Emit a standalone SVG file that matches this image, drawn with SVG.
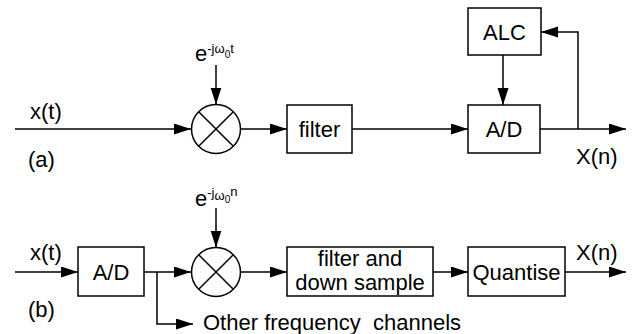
<svg xmlns="http://www.w3.org/2000/svg" width="639" height="334" viewBox="0 0 639 334">
<style>
.ln{fill:none;stroke:#000;stroke-width:1.5}
.bx{fill:#fff;stroke:#000;stroke-width:1.5}
.t{font-family:"Liberation Sans",Arial,sans-serif;font-size:22px;fill:#000}
.m{text-anchor:middle}
.s{font-size:13px}
.ss{font-size:10px}
</style>
<defs>
<marker id="ah" markerUnits="userSpaceOnUse" markerWidth="18" markerHeight="12" refX="17" refY="5.5" orient="auto">
<path d="M0,0 L17,5.5 L0,11 z" fill="#000"/>
</marker>
</defs>
<g id="connectors">
<line class="ln" x1="15" y1="129" x2="191" y2="129" marker-end="url(#ah)"/>
<line class="ln" x1="216" y1="65" x2="216" y2="104.5" marker-end="url(#ah)"/>
<line class="ln" x1="240.5" y1="129" x2="287" y2="129" marker-end="url(#ah)"/>
<line class="ln" x1="352" y1="129" x2="468" y2="129" marker-end="url(#ah)"/>
<line class="ln" x1="503" y1="55" x2="503" y2="105" marker-end="url(#ah)"/>
<line class="ln" x1="540" y1="129" x2="626" y2="129" marker-end="url(#ah)"/>
<polyline class="ln" points="578,129 578,32 541,32" marker-end="url(#ah)"/>
<line class="ln" x1="15" y1="272" x2="78" y2="272" marker-end="url(#ah)"/>
<line class="ln" x1="144" y1="272" x2="191" y2="272" marker-end="url(#ah)"/>
<polyline class="ln" points="157,272 157,324 193,324" marker-end="url(#ah)"/>
<line class="ln" x1="216" y1="208" x2="216" y2="247.5" marker-end="url(#ah)"/>
<line class="ln" x1="240.5" y1="272" x2="287" y2="272" marker-end="url(#ah)"/>
<line class="ln" x1="433" y1="272" x2="468" y2="272" marker-end="url(#ah)"/>
<line class="ln" x1="565" y1="272" x2="626" y2="272" marker-end="url(#ah)"/>
</g>
<g id="mixer-a">
<circle class="bx" cx="216" cy="129" r="24.5"/>
<path class="ln" d="M198.7,111.7 L233.3,146.3 M233.3,111.7 L198.7,146.3"/>
</g>
<g id="osc-a">
<text class="t" x="195" y="61">e<tspan class="s" dy="-8">-jω</tspan><tspan class="ss" dy="5">0</tspan><tspan class="s" dy="-5">t</tspan></text>
</g>
<g id="filter-a">
<rect class="bx" x="287" y="105" width="65" height="48"/>
<text class="t m" x="319.5" y="136.5">filter</text>
</g>
<g id="ad-a">
<rect class="bx" x="468" y="105" width="72" height="48"/>
<text class="t m" x="504" y="136.5">A/D</text>
</g>
<g id="alc">
<rect class="bx" x="468" y="8" width="73" height="47"/>
<text class="t m" x="504.5" y="39.5">ALC</text>
</g>
<g id="labels-a">
<text class="t" x="30" y="119">x(t)</text>
<text class="t" x="28" y="167">(a)</text>
<text class="t" x="576" y="164">X(n)</text>
</g>
<g id="ad-b">
<rect class="bx" x="78" y="247" width="66" height="49"/>
<text class="t m" x="111" y="279.5">A/D</text>
</g>
<g id="mixer-b">
<circle class="bx" cx="216" cy="272" r="24.5"/>
<path class="ln" d="M198.7,254.7 L233.3,289.3 M233.3,254.7 L198.7,289.3"/>
</g>
<g id="osc-b">
<text class="t" x="195" y="206">e<tspan class="s" dy="-9">-j</tspan><tspan class="s" dy="3">ω</tspan><tspan class="ss" dy="3">0</tspan><tspan class="s" dy="-7">n</tspan></text>
</g>
<g id="filter-b">
<rect class="bx" x="287" y="247" width="146" height="49"/>
<text class="t m" x="360" y="266">filter and</text>
<text class="t m" x="360" y="290">down sample</text>
</g>
<g id="quantise">
<rect class="bx" x="468" y="247" width="97" height="49"/>
<text class="t m" x="516.5" y="279.5">Quantise</text>
</g>
<g id="labels-b">
<text class="t" x="30" y="260">x(t)</text>
<text class="t" x="28" y="317">(b)</text>
<text class="t" x="576" y="260">X(n)</text>
<text class="t" x="203" y="330" xml:space="preserve">Other frequency  channels</text>
</g>
</svg>
